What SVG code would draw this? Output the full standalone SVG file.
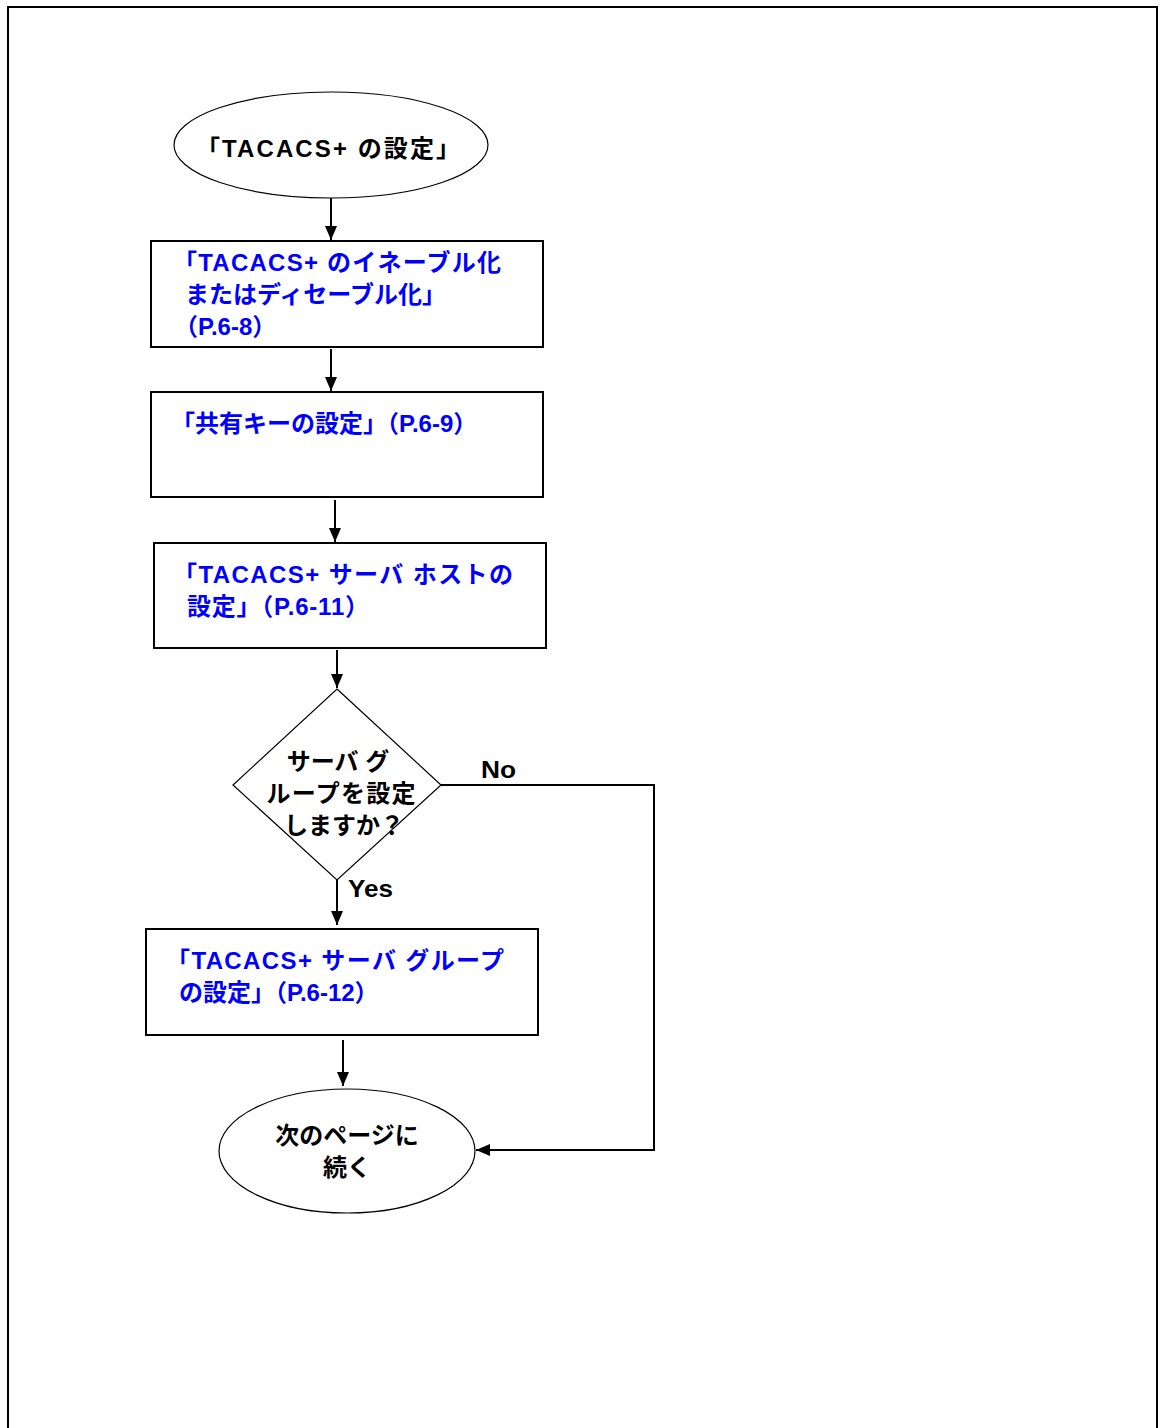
<svg xmlns="http://www.w3.org/2000/svg" width="1160" height="1428" viewBox="0 0 1160 1428">
<style>
.t{font-family:"Liberation Sans","Noto Sans CJK JP",sans-serif;font-weight:bold;font-size:24px;}
.b{fill:#0000ff;}
.k{fill:#000;}
.box{fill:#fff;stroke:#000;stroke-width:2;}
.thin{fill:#fff;stroke:#000;stroke-width:1.2;}
.c{fill:none;stroke:#000;stroke-width:2;}
</style>
<defs>
<marker id="ah" markerWidth="14" markerHeight="12" refX="14" refY="6" orient="auto" markerUnits="userSpaceOnUse">
<path d="M0,0 L14,6 L0,12 Z" fill="#000"/>
</marker>
</defs>
<rect width="1160" height="1428" fill="#fff"/>
<path d="M8,1428 V7 H1157 V1428" fill="none" stroke="#000" stroke-width="2"/>
<g id="connectors">
<line class="c" x1="331" y1="198" x2="331" y2="240" marker-end="url(#ah)"/>
<line class="c" x1="331" y1="349" x2="331" y2="391" marker-end="url(#ah)"/>
<line class="c" x1="335" y1="500" x2="335" y2="542" marker-end="url(#ah)"/>
<line class="c" x1="337" y1="650" x2="337" y2="688" marker-end="url(#ah)"/>
<line class="c" x1="337" y1="880" x2="337" y2="925" marker-end="url(#ah)"/>
<line class="c" x1="343" y1="1040" x2="343" y2="1086" marker-end="url(#ah)"/>
<polyline class="c" points="441,785 654,785 654,1150 476,1150" marker-end="url(#ah)"/>
<text class="t k" x="481" y="778" textLength="35" lengthAdjust="spacingAndGlyphs">No</text>
<text class="t k" x="348" y="897" textLength="45" lengthAdjust="spacingAndGlyphs">Yes</text>
</g>
<g id="start">
<ellipse class="thin" cx="331" cy="145" rx="157" ry="53"/>
<text class="t k" x="196" y="157" textLength="264">「TACACS+ の設定」</text>
</g>
<g id="enable">
<rect class="box" x="151" y="241" width="392" height="106"/>
<text class="t b" x="173" y="271" textLength="328">「TACACS+ のイネーブル化</text>
<text class="t b" x="185" y="303">またはディセーブル化」</text>
<text class="t b" x="174" y="335">（P.6-8）</text>
</g>
<g id="sharedkey">
<rect class="box" x="151" y="392" width="392" height="105"/>
<text class="t b" x="171" y="432">「共有キーの設定」（P.6-9）</text>
</g>
<g id="serverhost">
<rect class="box" x="154" y="543" width="392" height="105"/>
<text class="t b" x="173" y="583" textLength="340">「TACACS+ サーバ ホストの</text>
<text class="t b" x="187" y="615" textLength="182">設定」（P.6-11）</text>
</g>
<g id="decision">
<polygon class="thin" points="337,689 441,785 337,880 233,785"/>
<text class="t k" x="338" y="770" text-anchor="middle">サーバ グ</text>
<text class="t k" x="341" y="802" text-anchor="middle" textLength="149">ループを設定</text>
<text class="t k" x="344" y="834" text-anchor="middle">しますか？</text>
</g>
<g id="servergroup">
<rect class="box" x="146" y="929" width="392" height="106"/>
<text class="t b" x="166" y="969" textLength="338">「TACACS+ サーバ グループ</text>
<text class="t b" x="179" y="1001">の設定」（P.6-12）</text>
</g>
<g id="end">
<ellipse class="thin" cx="347" cy="1151" rx="128" ry="62"/>
<text class="t k" x="347" y="1144" text-anchor="middle">次のページに</text>
<text class="t k" x="347" y="1176" text-anchor="middle">続く</text>
</g>
</svg>
